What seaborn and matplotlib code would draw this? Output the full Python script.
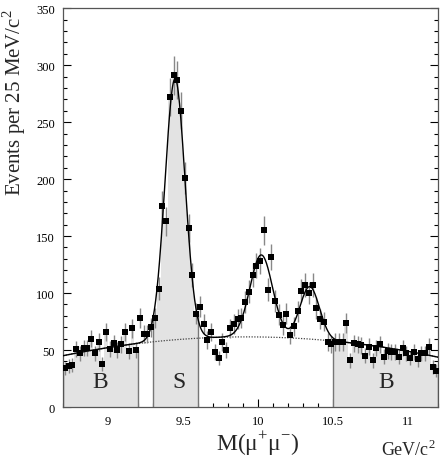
import numpy as np
import pandas as pd
import matplotlib
matplotlib.use("Agg")
import matplotlib.pyplot as plt
import seaborn as sns

# histogram: 100 bins of 25 MeV from 8.7 to 11.2 GeV
mass_lo = 8.7
bin_width = 0.025
events = [34, 36, 37, 51, 47, 52, 52, 60, 47, 57,
          38, 66, 51, 56, 50, 55, 66, 49, 69, 50,
          78, 64, 64, 70, 78, 104, 176, 163, 272, 291,
          287, 260, 201, 157, 116, 82, 88, 73, 59, 66,
          48, 43, 57, 50, 69, 73, 77, 78, 92, 101,
          116, 124, 128, 155, 103, 132, 93, 81, 72, 82,
          63, 71, 84, 102, 107, 100, 107, 87, 77, 75,
          57, 55, 57, 57, 57, 74, 41, 56, 55, 54,
          45, 53, 41, 52, 55, 44, 49, 48, 48, 44,
          52, 47, 43, 48, 42, 47, 47, 53, 35, 32]

# sideband (B) and signal (S) windows
regions = [(8.7, 9.2), (9.3, 9.6), (10.5, 11.2)]
region_labels = ["B", "S", "B"]

# fit: quadratic background + three gaussians (Upsilon 1S, 2S, 3S)
bkg_mass = [8.7, 9.3, 9.9, 10.5, 11.2]
bkg_level = [45, 57, 62.5, 57, 44]
peak_mass = [9.446, 10.021, 10.344]
peak_sigma = [0.067, 0.075, 0.065]
peak_height = [229, 72, 46]

sns.set_theme(style="ticks")
plt.rcParams["font.family"] = ["Liberation Serif", "DejaVu Serif"]
plt.rcParams["mathtext.fontset"] = "custom"
plt.rcParams["mathtext.rm"] = "Liberation Serif"

n = len(events)
centers = mass_lo + bin_width * (np.arange(n) + 0.5)
edges = mass_lo + bin_width * np.arange(n + 1)
counts = np.array(events, dtype=float)
df = pd.DataFrame({"mass": centers, "events": counts})

fig = plt.figure(figsize=(4.44, 4.60), dpi=100)
ax = fig.add_axes([0.142, 0.113, 0.845, 0.867])

# shaded windows under the histogram
for (lo, hi), lab in zip(regions, region_labels):
    sel = (centers > lo) & (centers < hi)
    vals = counts[sel]
    e = edges[:-1][sel]
    xs = np.r_[e, e[-1] + bin_width]
    ys = np.r_[vals, vals[-1]]
    ax.fill_between(xs, ys, step="post", color="#e3e3e3", lw=0, zorder=1)
    ax.vlines([xs[0], xs[-1]], 0, [vals[0], vals[-1]], color="#777777", lw=1.0, zorder=2)
    ax.text((lo + hi) / 2 + (0.02 if lab == "S" else 0.0), 22, lab,
            ha="center", va="center", fontsize=17, zorder=5)

# fit curves
xf = np.linspace(mass_lo, mass_lo + n * bin_width, 600)
bkg = np.polyval(np.polyfit(bkg_mass, bkg_level, 2), xf)
total = bkg.copy()
for m, s, h in zip(peak_mass, peak_sigma, peak_height):
    total += h * np.exp(-0.5 * ((xf - m) / s) ** 2)
ax.plot(xf, bkg, color="#444444", lw=0.9, ls=(0, (1, 1.2)), zorder=3)
sns.lineplot(x=xf, y=total, ax=ax, color="black", lw=1.0, zorder=4)

# data points with errors
ax.errorbar(centers, counts, yerr=np.sqrt(counts), xerr=bin_width / 2,
            fmt="none", ecolor="#888888", elinewidth=1.0, zorder=3)
sns.scatterplot(data=df, x="mass", y="events", ax=ax, marker="s", s=14,
                color="black", edgecolor="black", linewidth=0, zorder=6)

ax.set_xlim(mass_lo, mass_lo + n * bin_width)
ax.set_ylim(0, 350)
ax.set_xticks([9, 9.5, 10, 10.5, 11])
ax.set_xticklabels(["9", "9.5", "10", "10.5", "11"])
ax.set_yticks(np.arange(0, 351, 50))
ax.set_xticks(np.arange(8.7, 11.21, 0.1), minor=True)
ax.set_yticks(np.arange(0, 351, 10), minor=True)
ax.tick_params(which="both", direction="in", right=True, top=False,
               labelsize=9, colors="black", width=0.8)
ax.tick_params(which="major", length=6, pad=6)
ax.tick_params(which="minor", length=3)
for sp in ax.spines.values():
    sp.set_visible(True)
    sp.set_color("#555555")
    sp.set_linewidth(0.9)

ax.set_xlabel("")
ax.set_ylabel("Events per 25 MeV/c$^{2}$", fontsize=15, loc="top", labelpad=6)
fig.text(0.58, 0.035, "M(μ$^{+}$μ$^{-}$)", ha="center", va="center", fontsize=17)
fig.text(0.982, 0.022, "GeV/c$^{2}$", ha="right", va="center", fontsize=13)

fig.savefig("out.png", dpi=100)
